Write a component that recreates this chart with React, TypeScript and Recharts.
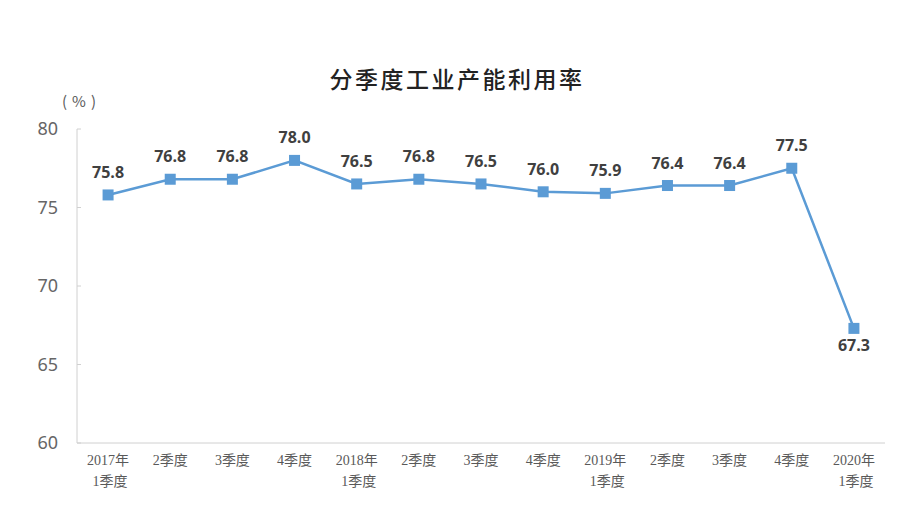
import React from 'react'
import { LineChart, Line, XAxis, YAxis, LabelList } from 'recharts'

// 季度标签（两行）
const quarterTop = ['2017年', '2季度', '3季度', '4季度', '2018年', '2季度', '3季度', '4季度', '2019年', '2季度', '3季度', '4季度', '2020年']
const quarterBottom = ['1季度', '', '', '', '1季度', '', '', '', '1季度', '', '', '', '1季度']

// 产能利用率（%）
const utilization = [75.8, 76.8, 76.8, 78.0, 76.5, 76.8, 76.5, 76.0, 75.9, 76.4, 76.4, 77.5, 67.3]

const yTicks = [60, 65, 70, 75, 80]

const LINE_COLOR = '#5B9BD5'
const AXIS_COLOR = '#D0D0D0'
const TEXT_COLOR = '#595959'

const data = utilization.map((v, i) => ({ x: i + 0.5, value: v }))
const boundaryTicks = quarterTop.map((_, i) => i).concat([quarterTop.length])
const centerTicks = quarterTop.map((_, i) => i + 0.5)

const SquareDot = (props: any) => {
  const { cx, cy } = props
  if (cx == null || cy == null) return null
  return <rect x={cx - 5.5} y={cy - 5.5} width={11} height={11} fill={LINE_COLOR} />
}

const QuarterTick = (props: any) => {
  const { x, y, payload } = props
  const i = Math.floor(payload.value)
  const font = { fontFamily: '"Liberation Serif", "Noto Sans CJK SC", serif', fontSize: 14 }
  return (
    <g>
      <text x={x} y={y + 13} textAnchor="middle" fill={TEXT_COLOR} style={font}>
        {quarterTop[i]}
      </text>
      {quarterBottom[i] && (
        <text x={x + 2} y={y + 34} textAnchor="middle" fill={TEXT_COLOR} style={font}>
          {quarterBottom[i]}
        </text>
      )}
    </g>
  )
}

const ValueLabel = (props: any) => {
  const { x, y, value, index } = props
  const below = index === utilization.length - 1
  return (
    <text x={x} y={below ? y + 23 : y - 17} textAnchor="middle" fill="#404040"
      style={{ fontFamily: '"Open Sans", "Noto Sans", sans-serif', fontSize: 16, fontWeight: 700 }}>
      {Number(value).toFixed(1)}
    </text>
  )
}

export default function App() {
  return (
    <div style={{ position: 'fixed', left: 0, top: 0, width: 914, height: 531, background: '#fff' }}>
      <div style={{
        position: 'absolute', left: 0, width: 914, top: 61, textAlign: 'center',
        fontFamily: '"Noto Sans CJK SC", sans-serif', fontSize: 23, fontWeight: 500, color: '#222',
        letterSpacing: 2.5
      }}>
        分季度工业产能利用率
      </div>
      <div style={{
        position: 'absolute', left: 62, top: 90,
        fontFamily: '"Noto Sans CJK SC", sans-serif', fontSize: 15, color: TEXT_COLOR, letterSpacing: 5
      }}>
        (%)
      </div>
      <LineChart width={914} height={531} data={data}
        margin={{ top: 129, right: 29, left: 27, bottom: 28 }}>
        <XAxis xAxisId="grid" dataKey="x" type="number" domain={[0, quarterTop.length]}
          ticks={boundaryTicks} tick={false} height={1}
          axisLine={{ stroke: AXIS_COLOR }} tickLine={{ stroke: AXIS_COLOR }} tickSize={-4} />
        <XAxis xAxisId="lab" dataKey="x" type="number" domain={[0, quarterTop.length]}
          ticks={centerTicks} tick={<QuarterTick />} axisLine={false} tickLine={false} height={59} />
        <YAxis domain={[60, 80]} ticks={yTicks} width={50} interval={0}
          axisLine={{ stroke: AXIS_COLOR }} tickLine={{ stroke: AXIS_COLOR }} tickSize={-4} tickMargin={23}
          tick={{ fill: '#666', fontSize: 18, fontFamily: '"Noto Sans", sans-serif' }} />
        <Line xAxisId="grid" dataKey="value" stroke={LINE_COLOR} strokeWidth={2.5}
          dot={<SquareDot />} activeDot={false} isAnimationActive={false}>
          <LabelList dataKey="value" content={<ValueLabel />} />
        </Line>
      </LineChart>
    </div>
  )
}
